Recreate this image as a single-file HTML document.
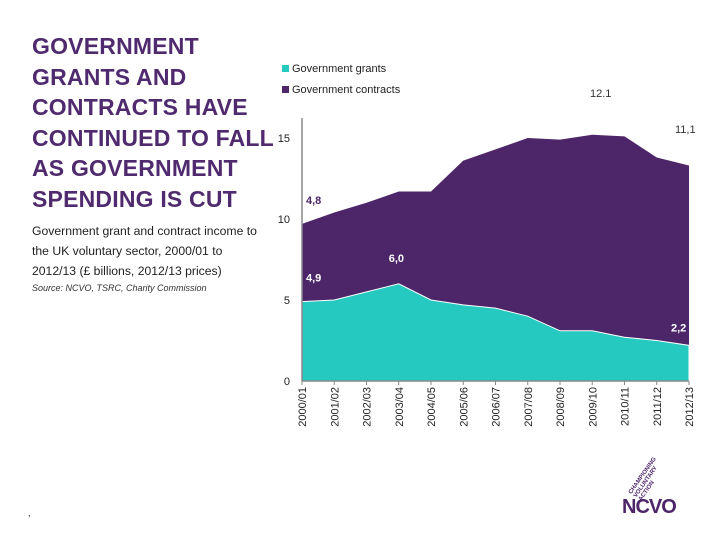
<!DOCTYPE html>
<html><head><meta charset="utf-8"><style>
body{margin:0;width:720px;height:540px;background:#fff;font-family:"Liberation Sans",sans-serif;position:relative;overflow:hidden}
.t{position:absolute;left:32px;top:31px;font-size:23px;line-height:30.5px;color:#4f2a6e;font-weight:bold;letter-spacing:0.2px}
.sub{position:absolute;left:32px;top:221px;font-size:12.2px;line-height:20px;color:#222;width:226px}
.src{position:absolute;left:32px;top:283px;font-size:9px;font-style:italic;color:#333}
.lg{position:absolute;font-size:11px;color:#222}
.lg span{display:inline-block;width:7px;height:7px;margin-right:3px}
</style></head><body>
<div class="t">GOVERNMENT<br>GRANTS AND<br>CONTRACTS HAVE<br>CONTINUED TO FALL<br>AS GOVERNMENT<br>SPENDING IS CUT</div>
<div class="sub">Government grant and contract income to the UK voluntary sector, 2000/01 to 2012/13 (£ billions, 2012/13 prices)</div>
<div class="src">Source: NCVO, TSRC, Charity Commission</div>
<div class="lg" style="left:282px;top:63px"><span style="background:#26c9c0"></span>Government grants</div>
<div class="lg" style="left:282px;top:84px"><span style="background:#4d2569"></span>Government contracts</div>
<div style="position:absolute;left:590px;top:88px;font-size:11px;color:#333">12.1</div>
<div style="position:absolute;left:28px;top:508px;font-size:9px">,</div>
<svg id="c" width="720" height="540" style="position:absolute;left:0;top:0"></svg>
<div style="position:absolute;left:628px;top:492px;transform:rotate(-55deg);transform-origin:left top;font-size:6px;line-height:6px;color:#4d2569;font-weight:bold">CHAMPIONING<br>VOLUNTARY<br>ACTION</div>
<div style="position:absolute;left:622px;top:496px;font-size:20px;font-weight:bold;color:#4d2569;letter-spacing:-1px">NCVO</div>
<script>
const years=["2000/01","2001/02","2002/03","2003/04","2004/05","2005/06","2006/07","2007/08","2008/09","2009/10","2010/11","2011/12","2012/13"];
const grants=[4.9,5.0,5.5,6.0,5.0,4.7,4.5,4.0,3.1,3.1,2.7,2.5,2.2];
const contracts=[4.8,5.4,5.5,5.7,6.7,8.9,9.8,11.0,11.8,12.1,12.4,11.3,11.1];
const yTicks=[0,5,10,15];
const NS="http://www.w3.org/2000/svg",svg=document.getElementById('c');
const x0=302,x1=689,y0=381,ppu=16.2;
const X=i=>x0+i*(x1-x0)/(years.length-1),Y=v=>y0-v*ppu;
function el(t,a,p){const e=document.createElementNS(NS,t);for(const k in a)e.setAttribute(k,a[k]);(p||svg).appendChild(e);return e;}
const totals=grants.map((g,i)=>g+contracts[i]);
let d="M"+X(0)+","+Y(0);grants.forEach((g,i)=>d+=" L"+X(i)+","+Y(totals[i]));d+=" L"+X(years.length-1)+","+Y(0)+"Z";
const pc=el('path',{d:d,fill:'#4d2569'});


d="M"+X(0)+","+Y(0);grants.forEach((g,i)=>d+=" L"+X(i)+","+Y(g));d+=" L"+X(years.length-1)+","+Y(0)+"Z";
const pg=el('path',{d:d,fill:'#26c9c0',stroke:'#fff','stroke-width':1});


el('line',{x1:x0,y1:Y(0),x2:x0,y2:118,stroke:'#888','stroke-width':1.5});
el('line',{x1:x0,y1:y0,x2:x1,y2:y0,stroke:'#888','stroke-width':1.5});
yTicks.forEach(v=>{const t=el('text',{x:290,y:Y(v)+4,'text-anchor':'end','font-size':11,fill:'#222'});t.textContent=v;

});
years.forEach((yr,i)=>{el('line',{x1:X(i),y1:y0,x2:X(i),y2:y0+4,stroke:'#888'});
const t=el('text',{x:0,y:0,transform:`translate(${X(i)+4},${y0+6}) rotate(-90)`,'text-anchor':'end','font-size':11,fill:'#222'});t.textContent=yr;

});
function lab(s,x,y,c){const t=el('text',{x:x,y:y,'font-size':11,'font-weight':'bold',fill:c});t.textContent=s;

}
const n=years.length-1;
lab(contracts[0].toFixed(1).replace('.',','),X(0)+4,Y(totals[0])-20,'#4d2569');
lab(grants[0].toFixed(1).replace('.',','),X(0)+4,Y(grants[0])-20,'#fff');
lab(grants[3].toFixed(1).replace('.',','),X(3)-10,Y(grants[3])-22,'#fff');
lab(grants[n].toFixed(1).replace('.',','),X(n)-18,Y(grants[n])-14,'#fff');
const t2=el('text',{x:X(n)-14,y:Y(15)-5,'font-size':11,fill:'#333'});t2.textContent=contracts[n].toFixed(1).replace('.',',');


</script>
</body></html>
